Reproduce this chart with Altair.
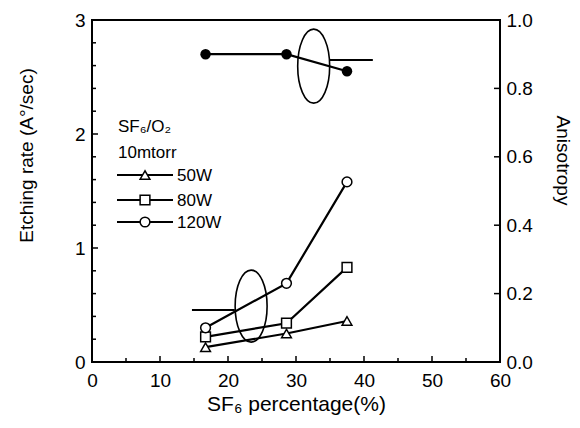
import altair as alt
import pandas as pd

# ---- data ----
x_pct = [16.7, 28.6, 37.5]
etch_50w = [0.13, 0.25, 0.36]
etch_80w = [0.22, 0.34, 0.83]
etch_120w = [0.30, 0.69, 1.58]
anisotropy = [0.90, 0.90, 0.85]
series_names = ["50W", "80W", "120W"]
series_shapes = ["triangle-up", "square", "circle"]

x_ticks_major = [0, 10, 20, 30, 40, 50, 60]
x_ticks_minor = [5, 15, 25, 35, 45, 55]
left_ticks_major = [0, 1, 2, 3]
left_ticks_minor = [0.2, 0.4, 0.6, 0.8, 1.2, 1.4, 1.6, 1.8, 2.2, 2.4, 2.6, 2.8]
right_ticks_major = [0.0, 0.2, 0.4, 0.6, 0.8, 1.0]

# annotation ellipses / arrows (data coordinates)
ell_low_x, ell_low_y = [23.4], [0.49]
ell_up_x, ell_up_y = [32.6], [0.865]
arrow_low_x, arrow_low_x2, arrow_low_y = [14.7], [21.0], [0.456]
arrow_up_x, arrow_up_x2, arrow_up_y = [35.0], [41.3], [0.883]

W, H = 408, 342
FONT = "Liberation Sans"

etch_df = pd.DataFrame({
    "x": x_pct * 3,
    "etch": etch_50w + etch_80w + etch_120w,
    "series": [s for s in series_names for _ in x_pct],
})
aniso_df = pd.DataFrame({"x": x_pct, "aniso": anisotropy})

xscale = alt.Scale(domain=[0, 60], nice=False, zero=False)
lscale = alt.Scale(domain=[0, 3], nice=False)
rscale = alt.Scale(domain=[0, 1], nice=False)

X = alt.X(
    "x:Q", scale=xscale,
    axis=alt.Axis(
        values=x_ticks_major, ticks=False, tickSize=0, domain=False, grid=False,
        labelFlush=False, labelPadding=9, labelFontSize=19, labelFont=FONT,
        labelColor="black", title="SF₆ percentage(%)", titleFontSize=21,
        titleFont=FONT, titleFontWeight="normal", titleColor="black",
        titleX=204, titleY=42, titleBaseline="middle", titleAlign="center",
    ),
)
X2 = alt.X2("x2:Q")

YL = alt.Y(
    "etch:Q", scale=lscale,
    axis=alt.Axis(
        orient="left", values=left_ticks_major, ticks=False, tickSize=0, domain=False,
        grid=False, labelPadding=7, labelFontSize=19, labelFont=FONT,
        labelColor="black", title="Etching rate (A°/sec)", titleFontSize=19,
        titleFont=FONT, titleFontWeight="normal", titleColor="black",
        titleX=-66, titleY=135, titleAngle=270, titleBaseline="middle",
        titleAlign="center",
    ),
)

YR = alt.Y(
    "aniso:Q", scale=rscale,
    axis=alt.Axis(
        orient="right", values=right_ticks_major, format=".1f", ticks=False,
        tickSize=0, domain=False, grid=False, labelPadding=6, labelFontSize=19,
        labelFont=FONT, labelColor="black", title="Anisotropy", titleFontSize=19,
        titleFont=FONT, titleFontWeight="normal", titleColor="black",
        titleX=62, titleY=140, titleAngle=90, titleBaseline="middle",
        titleAlign="center",
    ),
)

ellipse_low_path = "M 0 -1 A 0.444 1 0 1 1 0 1 A 0.444 1 0 1 1 0 -1 Z"
ellipse_up_path = "M 0 -1 A 0.432 1 0 1 1 0 1 A 0.432 1 0 1 1 0 -1 Z"

# ---- left (etching rate) group ----
etch_lines = alt.Chart(etch_df).mark_line(color="black", strokeWidth=2.2).encode(
    x=X, y=YL, detail="series:N"
)
etch_points = alt.Chart(etch_df).mark_point(
    filled=True, fill="white", stroke="black", strokeWidth=1.5, opacity=1, size=95
).encode(
    x=X, y=YL,
    shape=alt.Shape("series:N", scale=alt.Scale(domain=series_names, range=series_shapes), legend=None),
)
ell_low = alt.Chart(pd.DataFrame({"x": ell_low_x, "etch": ell_low_y})).mark_point(
    shape=ellipse_low_path, size=72 * 72, filled=False, stroke="black", strokeWidth=1.6, opacity=1
).encode(x=X, y=YL)
arrow_low = alt.Chart(pd.DataFrame({"x": arrow_low_x, "x2": arrow_low_x2, "etch": arrow_low_y})).mark_rule(
    color="black", strokeWidth=1.8
).encode(x=X, x2=X2, y=YL)

left_major = alt.Chart(pd.DataFrame({"etch": left_ticks_major})).mark_rule(color="black", strokeWidth=1.5).encode(
    y=YL, x=alt.value(0), x2=alt.value(6)
)
left_minor = alt.Chart(pd.DataFrame({"etch": left_ticks_minor})).mark_rule(color="black", strokeWidth=1.5).encode(
    y=YL, x=alt.value(0), x2=alt.value(4)
)
xt_major = alt.Chart(pd.DataFrame({"x": x_ticks_major})).mark_rule(color="black", strokeWidth=1.5).encode(
    x=X, y=alt.value(H), y2=alt.value(H - 6)
)
xt_minor = alt.Chart(pd.DataFrame({"x": x_ticks_minor})).mark_rule(color="black", strokeWidth=1.5).encode(
    x=X, y=alt.value(H), y2=alt.value(H - 4)
)

# ---- legend (drawn inside the plot) ----
legend_layers = []
title_lines = [("SF₆/O₂", 112), ("10mtorr", 138)]
for txt, yy in title_lines:
    legend_layers.append(
        alt.Chart(pd.DataFrame({"t": [txt]})).mark_text(
            align="left", baseline="alphabetic", font=FONT, fontSize=17, color="black"
        ).encode(text="t:N", x=alt.value(26), y=alt.value(yy))
    )
legend_row_y = [155, 180, 202]
for name, shp, yy in zip(series_names, series_shapes, legend_row_y):
    row = pd.DataFrame({"series": [name]})
    legend_layers.append(
        alt.Chart(row).mark_rule(color="black", strokeWidth=2).encode(
            x=alt.value(25), x2=alt.value(81), y=alt.value(yy)
        )
    )
    legend_layers.append(
        alt.Chart(row).mark_point(
            shape=shp, filled=True, fill="white", stroke="black", strokeWidth=1.5, opacity=1, size=95
        ).encode(x=alt.value(53), y=alt.value(yy))
    )
    legend_layers.append(
        alt.Chart(row).mark_text(
            align="left", baseline="middle", font=FONT, fontSize=17, color="black"
        ).encode(text="series:N", x=alt.value(85), y=alt.value(yy + 1))
    )

left_group = alt.layer(
    etch_lines, etch_points, ell_low, arrow_low,
    left_major, left_minor, xt_major, xt_minor, *legend_layers
)

# ---- right (anisotropy) group ----
aniso_line = alt.Chart(aniso_df).mark_line(color="black", strokeWidth=2.2).encode(
    x=X, y=YR
)
aniso_points = alt.Chart(aniso_df).mark_point(
    filled=True, color="black", opacity=1, size=110
).encode(x=X, y=YR, shape=alt.value("circle"))
ell_up = alt.Chart(pd.DataFrame({"x": ell_up_x, "aniso": ell_up_y})).mark_point(
    shape=ellipse_up_path, size=74 * 74, filled=False, stroke="black", strokeWidth=1.6, opacity=1
).encode(x=X, y=YR)
arrow_up = alt.Chart(pd.DataFrame({"x": arrow_up_x, "x2": arrow_up_x2, "aniso": arrow_up_y})).mark_rule(
    color="black", strokeWidth=1.8
).encode(x=X, x2=X2, y=YR)
right_major = alt.Chart(pd.DataFrame({"aniso": right_ticks_major})).mark_rule(color="black", strokeWidth=1.5).encode(
    y=YR, x=alt.value(W), x2=alt.value(W - 6)
)

right_group = alt.layer(aniso_line, aniso_points, ell_up, arrow_up, right_major)

chart = (
    alt.layer(left_group, right_group)
    .resolve_scale(y="independent")
    .properties(
        width=W, height=H,
        autosize=alt.AutoSizeParams(type="none"),
        padding={"left": 84, "top": 12, "right": 72, "bottom": 58},
        background="white",
    )
    .configure_view(stroke="black", strokeWidth=2)
    .configure_text(font=FONT)
)

chart.save("out.html", embed_options={"renderer": "svg", "actions": False})
